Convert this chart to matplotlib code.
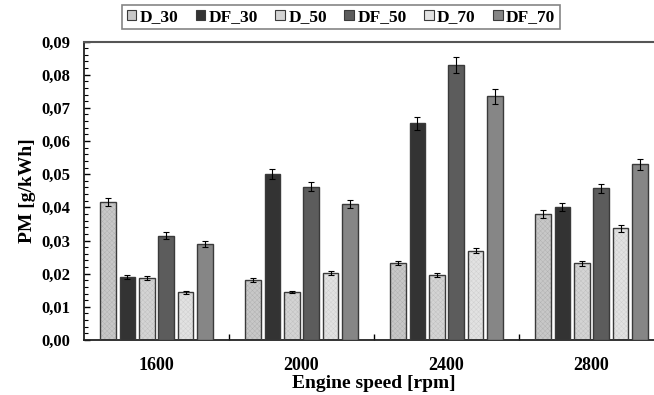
import numpy as np, matplotlib
matplotlib.use("Agg")
import matplotlib.pyplot as plt
from matplotlib.ticker import FuncFormatter, MultipleLocator, FixedLocator
from matplotlib.patches import Patch

plt.rcParams["font.family"] = ["Liberation Serif", "DejaVu Serif"]
plt.rcParams["font.weight"] = "bold"
plt.rcParams["axes.labelweight"] = "bold"
plt.rcParams["hatch.linewidth"] = 0.3

speeds = ["1600", "2000", "2400", "2800"]
series = ["D_30", "DF_30", "D_50", "DF_50", "D_70", "DF_70"]
pm = {
    "D_30":  [0.0416, 0.0180, 0.0232, 0.0380],
    "DF_30": [0.0191, 0.0500, 0.0653, 0.0401],
    "D_50":  [0.0186, 0.0145, 0.0196, 0.0231],
    "DF_50": [0.0315, 0.0462, 0.0829, 0.0457],
    "D_70":  [0.0144, 0.0202, 0.0269, 0.0337],
    "DF_70": [0.0289, 0.0411, 0.0735, 0.0530],
}
err = {
    "D_30":  [0.0013, 0.0006, 0.0007, 0.0011],
    "DF_30": [0.0006, 0.0015, 0.0020, 0.0012],
    "D_50":  [0.0006, 0.0004, 0.0006, 0.0007],
    "DF_50": [0.0010, 0.0014, 0.0025, 0.0014],
    "D_70":  [0.0004, 0.0006, 0.0008, 0.0010],
    "DF_70": [0.0009, 0.0012, 0.0022, 0.0016],
}
face = {"D_30": "#c8c8c8", "DF_30": "#333333", "D_50": "#d4d4d4",
        "DF_50": "#5c5c5c", "D_70": "#e2e2e2", "DF_70": "#868686"}
hatched = {"D_30": "#b0b0b0", "D_50": "#bebebe", "D_70": "#cecece"}

fig = plt.figure(figsize=(6.54, 3.95), dpi=100)
ax = fig.add_axes([84/654, 55/395, 580/654, 298.5/395])
x = np.arange(len(speeds)); w = 0.107; step = 0.134
for j, s in enumerate(series):
    xs = x + (j - 2.5) * step
    if s in hatched:
        ax.bar(xs, pm[s], w, color=face[s], hatch="xxxxxxx", edgecolor=hatched[s], lw=0, zorder=2)
        ax.bar(xs, pm[s], w, fill=False, edgecolor="#3a3a3a", lw=1.0, zorder=3)
    else:
        ax.bar(xs, pm[s], w, color=face[s], edgecolor="#3a3a3a", lw=1.0, zorder=3)
    ax.errorbar(xs, pm[s], yerr=err[s], fmt="none", ecolor="black", elinewidth=0.8, capsize=2.2, capthick=0.8, zorder=4)

ax.set_xlim(-0.5, 3.5); ax.set_ylim(0, 0.09)
ax.yaxis.set_major_locator(MultipleLocator(0.01)); ax.yaxis.set_minor_locator(MultipleLocator(0.002))
ax.yaxis.set_major_formatter(FuncFormatter(lambda v, p: f"{v:.2f}".replace(".", ",")))
ax.tick_params(axis="y", which="major", direction="in", length=4, width=1, labelsize=12, pad=10)
ax.tick_params(axis="y", which="minor", direction="in", length=3, width=0.8)
ax.set_xticks(x); ax.set_xticklabels(speeds, fontsize=13)
ax.xaxis.set_minor_locator(FixedLocator([0.5, 1.5, 2.5]))
ax.tick_params(axis="x", which="major", length=0, pad=12)
ax.tick_params(axis="x", which="minor", direction="in", length=4, width=1)
for s in ["left", "bottom"]: ax.spines[s].set_linewidth(1.3); ax.spines[s].set_color("#222")
ax.spines["top"].set_color("#555"); ax.spines["top"].set_linewidth(1.5)
ax.spines["right"].set_visible(False)
ax.set_ylabel("PM [g/kWh]", fontsize=14, labelpad=4)
ax.set_xlabel("Engine speed [rpm]", fontsize=14, labelpad=1)

handles = [Patch(facecolor=face[s], edgecolor="#3a3a3a", lw=0.8, label=s) for s in series]
leg = fig.legend(handles=handles, ncol=6, loc="center", bbox_to_anchor=(341/654, 1 - 17/395),
                 fontsize=12.5, handlelength=0.55, handleheight=0.55, handletextpad=0.2,
                 columnspacing=1.0, fancybox=False, edgecolor="#666", borderpad=0.25)
leg.get_frame().set_linewidth(1.2)

fig.savefig("out.png", dpi=100, facecolor="white")
